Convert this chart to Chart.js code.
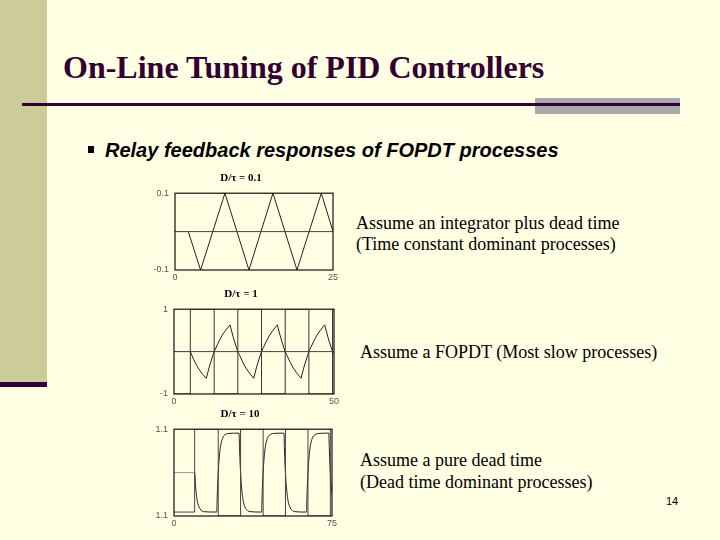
<!DOCTYPE html>
<html lang="en">
<head>
<meta charset="UTF-8">
<title>On-Line Tuning of PID Controllers</title>
<script src="https://cdn.jsdelivr.net/npm/chart.js@4.4.1/dist/chart.umd.min.js"></script>
<style>
    html, body {
        margin: 0;
        padding: 0;
    }
    body {
        width: 720px;
        height: 540px;
        background: #ffffe3;
        position: relative;
        overflow: hidden;
        font-family: 'Liberation Serif', serif;
    }
    .sidebar {
        position: absolute;
        left: 0; top: 0;
        width: 47px; height: 382px;
        background: #cccc99;
    }
    .sidebar-foot {
        position: absolute;
        left: 0; top: 382px;
        width: 47px; height: 5px;
        background: #330033;
    }
    .title {
        position: absolute;
        left: 63px; top: 51px;
        font-size: 32px;
        line-height: 1;
        font-weight: bold;
        color: #330033;
        white-space: nowrap;
    }
    .rule-grey {
        position: absolute;
        left: 535px; top: 98px;
        width: 145px; height: 16px;
        background: #aaaaaa;
    }
    .rule {
        position: absolute;
        left: 22px; top: 103px;
        width: 658px; height: 3px;
        background: #330033;
    }
    .bullet {
        position: absolute;
        left: 88px; top: 146px;
        width: 6px; height: 7px;
        background: #000;
    }
    .subtitle {
        position: absolute;
        left: 105px; top: 140px;
        font-family: 'Liberation Sans', Arial, sans-serif;
        font-size: 20px;
        line-height: 1;
        font-weight: bold;
        font-style: italic;
        white-space: nowrap;
    }
    .note {
        position: absolute;
        font-size: 18px;
        line-height: 1;
        white-space: nowrap;
        color: #000;
    }
    .page {
        position: absolute;
        left: 666px; top: 495px;
        font-family: 'Liberation Sans', Arial, sans-serif;
        font-size: 11px;
    }
    .plot {
        position: absolute;
    }
</style>
</head>
<body>
    <div class="sidebar"></div>
    <div class="sidebar-foot"></div>
    <div class="title">On-Line Tuning of PID Controllers</div>
    <div class="rule-grey"></div>
    <div class="rule"></div>
    <div class="bullet"></div>
    <div class="subtitle">Relay feedback responses of FOPDT processes</div>

    <div class="plot" style="left:149px; top:168px; width:196px; height:116px;"><canvas id="c1"></canvas></div>
    <div class="plot" style="left:148px; top:284px; width:198px; height:124px;"><canvas id="c2"></canvas></div>
    <div class="plot" style="left:148px; top:404px; width:196px; height:126px;"><canvas id="c3"></canvas></div>

    <div class="note" style="left:356px; top:214px;">Assume an integrator plus dead time</div>
    <div class="note" style="left:356px; top:235px;">(Time constant dominant processes)</div>
    <div class="note" style="left:360px; top:343px;">Assume a FOPDT (Most slow processes)</div>
    <div class="note" style="left:360px; top:451px;">Assume a pure dead time</div>
    <div class="note" style="left:360px; top:473px;">(Dead time dominant processes)</div>
    <div class="page">14</div>

<script>
// D/tau = 0.1 : process output
const t1 = [0, 2.1, 4.05, 7.9, 11.7, 15.5, 19.3, 23.15, 25];
const y1 = [0, 0, -0.1, 0.1, -0.1, 0.1, -0.1, 0.1, 0];
const xTicks1 = ['0', '25'];
const yTicks1 = ['-0.1', '0.1'];

// D/tau = 1 : process output and relay output
const t2 = [0, 5.1, 6.1, 7.1, 8.1, 9.1, 10.1,
    11.1, 12.1, 12.55, 13.1, 14.1, 15.1, 16.1, 17.5,
    18.5, 19.5, 19.95, 20.5, 21.5, 22.5, 23.5, 24.9,
    25.9, 26.9, 27.35, 27.9, 28.9, 29.9, 30.9, 32.3,
    33.3, 34.3, 34.75, 35.3, 36.3, 37.3, 38.3, 39.7,
    40.7, 41.7, 42.15, 42.7, 43.7, 44.7, 45.7, 47.1,
    48.1, 49.1, 49.55, 50];
const y2 = [0, 0, -0.18, -0.33, -0.45, -0.55, -0.63,
    -0.34, -0.10, 0, 0.09, 0.25, 0.39, 0.50, 0.63,
    0.34, 0.10, 0, -0.09, -0.25, -0.39, -0.50, -0.63,
    -0.34, -0.10, 0, 0.09, 0.25, 0.39, 0.50, 0.63,
    0.34, 0.10, 0, -0.09, -0.25, -0.39, -0.50, -0.63,
    -0.34, -0.10, 0, 0.09, 0.25, 0.39, 0.50, 0.63,
    0.34, 0.10, 0, -0.05];
const relayT2 = [0, 5.1, 12.55, 19.95, 27.35, 34.75, 42.15, 49.55, 50];
const relayY2 = [-1, 1, -1, 1, -1, 1, -1, 1, 1];
const xTicks2 = ['0', '50'];
const yTicks2 = ['-1', '1'];

// D/tau = 10 : process output and relay output
const t3 = [0, 9.8, 10.3, 10.8, 11.3, 11.8, 12.8, 14,
    20.3, 20.5, 20.8, 21.0, 21.3, 21.8, 22.3, 23.3, 24.3, 25.5,
    30.9, 31.1, 31.4, 31.6, 31.9, 32.4, 32.9, 33.9, 34.9, 36.1,
    41.6, 41.8, 42.1, 42.3, 42.6, 43.1, 43.6, 44.6, 45.6, 46.8,
    52.2, 52.4, 52.7, 52.9, 53.2, 53.7, 54.2, 55.2, 56.2, 57.4,
    62.9, 63.1, 63.4, 63.6, 63.9, 64.4, 64.9, 65.9, 66.9, 68.1,
    73.5, 73.7, 74.0, 74.2, 74.5, 75];
const y3 = [0, 0, -0.39, -0.63, -0.78, -0.86, -0.95, -0.99,
    -1, -0.64, -0.21, 0, 0.26, 0.55, 0.73, 0.90, 0.96, 0.99,
    1, 0.64, 0.21, 0, -0.26, -0.55, -0.73, -0.90, -0.96, -0.99,
    -1, -0.64, -0.21, 0, 0.26, 0.55, 0.73, 0.90, 0.96, 0.99,
    1, 0.64, 0.21, 0, -0.26, -0.55, -0.73, -0.90, -0.96, -0.99,
    -1, -0.64, -0.21, 0, 0.26, 0.55, 0.73, 0.90, 0.96, 0.99,
    1, 0.64, 0.21, 0, -0.26, -0.55];
const relayT3 = [0, 9.8, 21.0, 31.6, 42.3, 52.9, 63.6, 74.2, 75];
const relayY3 = [-1, 1.1, -1.1, 1.1, -1.1, 1.1, -1.1, 1.1, 1.1];
const xTicks3 = ['0', '75'];
const yTicks3 = ['1.1', '1.1'];

function pts(xs, ys) {
    return xs.map((x, i) => ({ x: x, y: ys[i] }));
}

// black box round the plot area
const frame = {
    id: 'frame',
    afterDatasetsDraw(chart) {
        const a = chart.chartArea;
        const ctx = chart.ctx;
        ctx.save();
        ctx.strokeStyle = '#111';
        ctx.lineWidth = 1.2;
        ctx.strokeRect(a.left, a.top, a.right - a.left, a.bottom - a.top);
        ctx.restore();
    }
};

const tickFont = { family: "'Liberation Sans', Arial, sans-serif", size: 9 };

function makeChart(id, title, xMax, yMin, yMax, xLabels, yLabels, datasets) {
    return new Chart(document.getElementById(id), {
        type: 'line',
        data: { datasets: datasets },
        plugins: [frame],
        options: {
            responsive: true,
            maintainAspectRatio: false,
            animation: false,
            layout: { padding: { left: 0, right: 12, top: 0, bottom: 0 } },
            plugins: {
                legend: { display: false },
                tooltip: { enabled: false },
                title: {
                    display: true,
                    text: title,
                    color: '#000',
                    font: { family: "'Liberation Serif', serif", size: 11, weight: 'bold' },
                    padding: { top: 4, bottom: 8 }
                }
            },
            elements: { point: { radius: 0 }, line: { borderWidth: 1, tension: 0 } },
            scales: {
                x: {
                    type: 'linear',
                    min: 0,
                    max: xMax,
                    grid: { display: false, drawTicks: false },
                    border: { display: false },
                    afterBuildTicks: axis => { axis.ticks = [{ value: axis.min }, { value: axis.max }]; },
                    afterFit: axis => { axis.height = 14; },
                    ticks: {
                        color: '#555',
                        font: tickFont,
                        padding: 2,
                        maxRotation: 0,
                        callback: (v, i) => xLabels[i]
                    }
                },
                y: {
                    type: 'linear',
                    min: yMin,
                    max: yMax,
                    grid: { display: false, drawTicks: false },
                    border: { display: false },
                    afterBuildTicks: axis => { axis.ticks = [{ value: axis.min }, { value: axis.max }]; },
                    afterFit: axis => { axis.width = 26; },
                    ticks: {
                        color: '#555',
                        font: tickFont,
                        padding: 6,
                        callback: (v, i) => yLabels[i]
                    }
                }
            }
        }
    });
}

makeChart('c1', 'D/\u03c4 = 0.1', 25, -0.1, 0.1, xTicks1, yTicks1, [
    { data: pts([0, 25], [0, 0]), borderColor: '#444' },
    { data: pts(t1, y1), borderColor: '#222',
      segment: { borderColor: c => c.p1DataIndex <= 1 ? '#999' : '#222' } }
]);

makeChart('c2', 'D/\u03c4 = 1', 50, -1, 1, xTicks2, yTicks2, [
    { data: pts([0, 50], [0, 0]), borderColor: '#444' },
    { data: pts(relayT2, relayY2), borderColor: '#333', stepped: true },
    { data: pts(t2, y2), borderColor: '#222',
      segment: { borderColor: c => c.p1DataIndex <= 1 ? '#999' : '#222' } }
]);

makeChart('c3', 'D/\u03c4 = 10', 75, -1.1, 1.1, xTicks3, yTicks3, [
    { data: pts(relayT3, relayY3), borderColor: '#444', stepped: true },
    { data: pts(t3, y3), borderColor: '#222', cubicInterpolationMode: 'monotone',
      segment: { borderColor: c => c.p1DataIndex <= 1 ? '#999' : '#222' } }
]);
</script>
</body>
</html>
